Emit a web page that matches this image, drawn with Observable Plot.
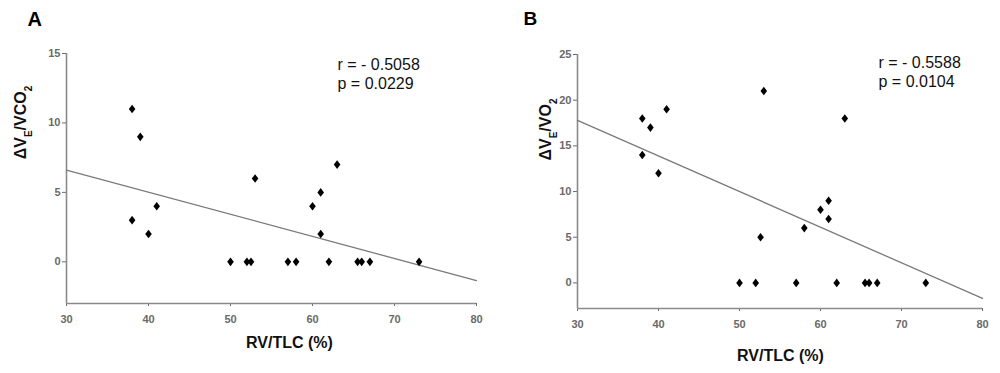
<!DOCTYPE html>
<html>
<head>
<meta charset="utf-8">
<script src="https://cdn.jsdelivr.net/npm/d3@7"></script>
<script src="https://cdn.jsdelivr.net/npm/@observablehq/plot@0.6"></script>
<style>
  html, body { margin: 0; padding: 0; background: #fff; }
  #wrap { display: flex; width: 1000px; height: 373px; }
  #wrap > * { flex: none; }
</style>
</head>
<body>
<div id="wrap"></div>
<script>
// ---- data ----
const rvTlcA = [38, 39, 38, 40, 41, 50, 52, 52.5, 53, 57, 58, 60, 61, 61, 62, 63, 65.5, 66, 67, 73];
const veVco2 = [11, 9, 3, 2, 4, 0, 0, 0, 6, 0, 0, 4, 5, 2, 0, 7, 0, 0, 0, 0];
const rvTlcB = [38, 38, 39, 40, 41, 53, 50, 52, 52.6, 57, 58, 60, 61, 61, 62, 63, 65.5, 66, 67, 73];
const veVo2  = [18, 14, 17, 12, 19, 21, 0, 0, 5, 0, 6, 8, 9, 7, 0, 18, 0, 0, 0, 0];
const fitAx = [30, 80], fitAy = [6.6, -1.35];
const fitBx = [30, 80], fitBy = [17.8, -1.7];
const xTicks = [30, 40, 50, 60, 70, 80];
const yTicksA = [0, 5, 10, 15];
const yTicksB = [0, 5, 10, 15, 20, 25];
const statsA = ["r = - 0.5058", "p = 0.0229"];
const statsB = ["r = - 0.5588", "p = 0.0104"];

const FONT = "'Liberation Sans', Arial, sans-serif";
const TICKFONT = "'Liberation Sans Narrow', 'Liberation Sans', Arial, sans-serif";

const diamond = {
  draw(ctx) {
    ctx.moveTo(0, -4.3);
    ctx.lineTo(3.3, 0);
    ctx.lineTo(0, 4.3);
    ctx.lineTo(-3.3, 0);
    ctx.closePath();
  }
};

function panel(cfg) {
  const pts = cfg.xs.map((x, i) => ({x, y: cfg.ys[i]}));
  const fit = cfg.fx.map((x, i) => ({x, y: cfg.fy[i]}));
  const m = cfg.m;
  const statMarks = cfg.stats.map((s, i) =>
    Plot.text([s], {frameAnchor: "top-left", dx: cfg.statsPos[0] - m[0], dy: cfg.statsPos[1 + i] - m[2],
      textAnchor: "start", lineAnchor: "bottom", fontSize: 16, fill: "#111"}));
  const svg = Plot.plot({
    width: 500, height: 373,
    marginLeft: m[0], marginRight: m[1], marginTop: m[2], marginBottom: m[3],
    style: {background: "#fff", fontFamily: FONT, overflow: "visible"},
    x: {domain: [30, 80], axis: null},
    y: {domain: cfg.ydom, axis: null},
    marks: [
      Plot.axisX({ticks: xTicks, tickSize: 3, tickPadding: 9, color: "#6a6a6a", fontSize: 11, fontFamily: TICKFONT, fontWeight: "bold", label: null}),
      Plot.axisY({ticks: cfg.yticks, tickSize: 4, tickPadding: 2, color: "#6a6a6a", fontSize: 11, fontFamily: TICKFONT, fontWeight: "bold", label: null}),
      Plot.ruleX([30], {y1: cfg.ydom[0], y2: cfg.ydom[1], stroke: "#8a8a8a", strokeWidth: 1.6}),
      Plot.ruleY([cfg.ydom[0]], {x1: 30, x2: 80, stroke: "#8a8a8a", strokeWidth: 1.6}),
      Plot.line(fit, {x: "x", y: "y", stroke: "#7a7a7a", strokeWidth: 1.3}),
      Plot.dot(pts, {x: "x", y: "y", symbol: diamond, fill: "#000", stroke: "none", r: 4}),
      Plot.text([cfg.letter], {frameAnchor: "top-left", dx: cfg.letterPos[0] - m[0], dy: cfg.letterPos[1] - m[2], textAnchor: "start", lineAnchor: "bottom", fontSize: cfg.letterSize, fontWeight: "bold", fill: "#000"}),
      ...statMarks,
      Plot.text(["RV/TLC (%)"], {frameAnchor: "top-left", dx: cfg.xlabPos[0] - m[0], dy: cfg.xlabPos[1] - m[2], textAnchor: "middle", lineAnchor: "bottom", fontSize: 16, fontWeight: "bold", fill: "#111"}),
      Plot.text([cfg.ylab.join("|")], {frameAnchor: "top-left", dx: cfg.ylabPos[0] - m[0], dy: cfg.ylabPos[1] - m[2], rotate: -90, textAnchor: "middle", lineAnchor: "middle", fontSize: 16, fontWeight: "bold", fill: "#111", className: "ylab"})
    ]
  });
  // subscripts for the y label
  d3.select(svg).selectAll(".ylab text").each(function() {
    const t = d3.select(this);
    const parts = t.text().split("|");
    t.text(null);
    parts.forEach((p, i) => {
      const sp = t.append("tspan").text(p);
      if (i % 2 === 1) sp.attr("font-size", "10px").attr("baseline-shift", "sub");
    });
  });
  return svg;
}

const wrap = document.getElementById("wrap");
wrap.appendChild(panel({
  xs: rvTlcA, ys: veVco2, fx: fitAx, fy: fitAy, ydom: [-3, 15], yticks: yTicksA,
  m: [66, 24, 53, 70], letter: "A", letterPos: [27, 25], letterSize: 20,
  stats: statsA, statsPos: [337, 69, 88],
  xlabPos: [289, 347], ylab: ["ΔV", "E", "/VCO", "2"], ylabPos: [20, 122]
}));
wrap.appendChild(panel({
  xs: rvTlcB, ys: veVo2, fx: fitBx, fy: fitBy, ydom: [-2.8, 25], yticks: yTicksB,
  m: [77, 18, 54, 65], letter: "B", letterPos: [23, 24], letterSize: 19,
  stats: statsB, statsPos: [378, 67, 86],
  xlabPos: [280, 360], ylab: ["ΔV", "E", "/VO", "2"], ylabPos: [45, 129]
}));
</script>
</body>
</html>
